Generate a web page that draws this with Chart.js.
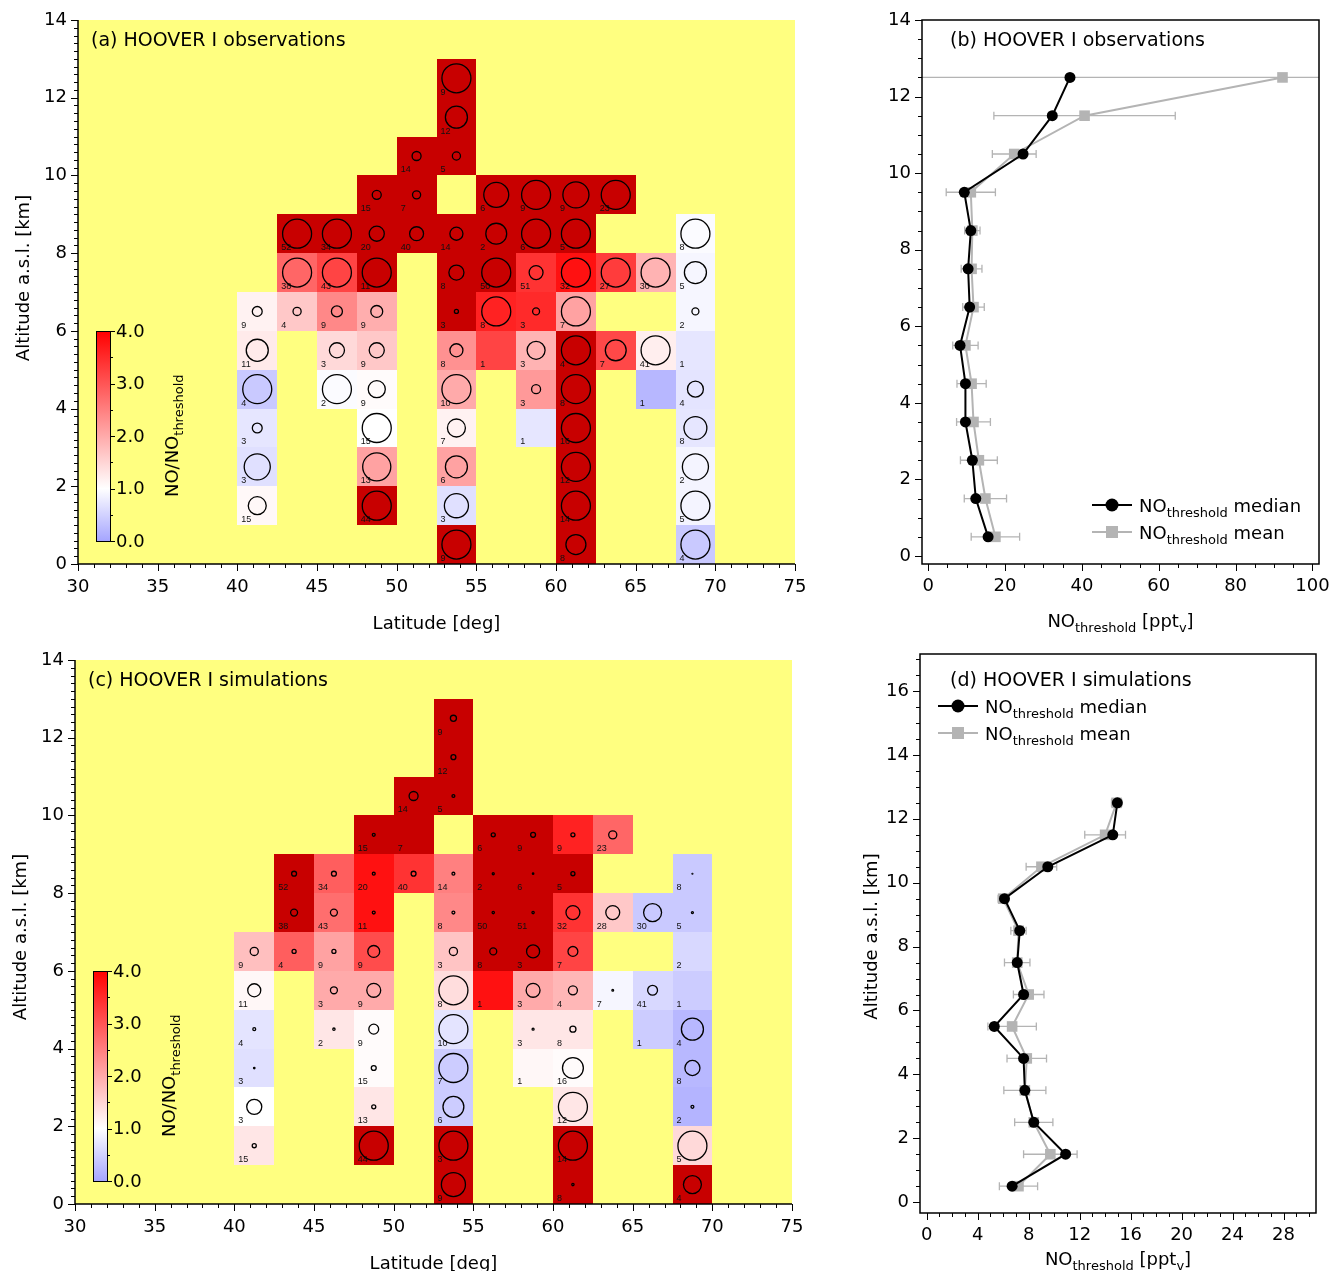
<!DOCTYPE html>
<html>
<head>
<meta charset="utf-8">
<script src="https://cdn.jsdelivr.net/npm/chart.js@4.4.1/dist/chart.umd.min.js"></script>
<style>
  body { margin: 0; background: #fff; width: 1332px; height: 1271px; position: relative; overflow: hidden; }
  .panel { position: absolute; }
</style>
</head>
<body>
<div class="panel" style="left:0;top:0;width:830px;height:645px"><canvas id="panelA"></canvas></div>
<div class="panel" style="left:860px;top:0;width:472px;height:645px"><canvas id="panelB"></canvas></div>
<div class="panel" style="left:0;top:640px;width:830px;height:631px"><canvas id="panelC"></canvas></div>
<div class="panel" style="left:850px;top:640px;width:482px;height:631px"><canvas id="panelD"></canvas></div>
<script>
// ---- grid bins (lower edges) ----
const latEdges = [40, 42.5, 45, 47.5, 50, 52.5, 55, 57.5, 60, 62.5, 65, 67.5];
const latStep = 2.5;
const altEdges = [0, 1, 2, 3, 4, 5, 6, 7, 8, 9, 10, 11, 12];
const altStep = 1;
const _ = null;
const H = 5; // above the colour range (> 4)

// NO/NO_threshold ratio per bin, rows = altitude bins from 0 km upwards
const obsRatio = [
  [_, _, _, _, _, H, _, _, H, _, _, 0.4],
  [1.08, _, _, H, _, 0.66, _, _, H, _, _, 0.88],
  [0.66, _, _, 2.1, _, 2.1, _, _, H, _, _, 0.88],
  [0.72, _, _, 1.0, _, 1.15, _, 0.72, H, _, _, 0.72],
  [0.4, _, 0.95, 1.05, _, 2.0, _, 2.2, H, _, 0.2, 0.7],
  [1.25, _, 1.45, 1.65, _, 2.3, 3.2, 1.9, H, 3.15, 1.2, 0.72],
  [1.15, 1.65, 2.4, 1.95, _, H, 3.6, 3.5, 2.1, _, _, 0.9],
  [_, 2.8, 3.2, H, _, H, H, 3.4, 3.8, 3.3, 1.9, 0.9],
  [_, H, H, H, H, H, H, H, H, _, _, 0.95],
  [_, _, _, H, H, _, H, H, H, H, _, _],
  [_, _, _, _, H, H, _, _, _, _, _, _],
  [_, _, _, _, _, H, _, _, _, _, _, _],
  [_, _, _, _, _, H, _, _, _, _, _, _]
];
// circle size, percent of the largest circle
const obsSpread = [
  [_, _, _, _, _, 100, _, _, 69, _, _, 100],
  [62, _, _, 100, _, 83, _, _, 100, _, _, 100],
  [90, _, _, 97, _, 76, _, _, 100, _, _, 90],
  [34, _, _, 100, _, 62, _, 0, 100, _, _, 79],
  [100, _, 100, 59, _, 100, _, 31, 100, _, 0, 55],
  [76, _, 52, 52, _, 45, 0, 62, 100, 72, 100, 0],
  [34, 28, 38, 41, _, 14, 100, 24, 100, _, _, 24],
  [_, 100, 100, 100, _, 52, 100, 48, 100, 100, 100, 76],
  [_, 100, 100, 52, 48, 45, 72, 100, 100, _, _, 100],
  [_, _, _, 31, 28, _, 86, 100, 90, 100, _, _],
  [_, _, _, _, 31, 28, _, _, _, _, _, _],
  [_, _, _, _, _, 76, _, _, _, _, _, _],
  [_, _, _, _, _, 100, _, _, _, _, _, _]
];
const obsCounts = [
  [_, _, _, _, _, 9, _, _, 8, _, _, 4],
  [15, _, _, 44, _, 3, _, _, 14, _, _, 5],
  [3, _, _, 13, _, 6, _, _, 12, _, _, 2],
  [3, _, _, 15, _, 7, _, 1, 16, _, _, 8],
  [4, _, 2, 9, _, 10, _, 3, 8, _, 1, 4],
  [11, _, 3, 9, _, 8, 1, 3, 4, 7, 41, 1],
  [9, 4, 9, 9, _, 3, 8, 3, 7, _, _, 2],
  [_, 38, 43, 11, _, 8, 50, 51, 32, 27, 30, 5],
  [_, 52, 34, 20, 40, 14, 2, 6, 5, _, _, 8],
  [_, _, _, 15, 7, _, 6, 9, 9, 23, _, _],
  [_, _, _, _, 14, 5, _, _, _, _, _, _],
  [_, _, _, _, _, 12, _, _, _, _, _, _],
  [_, _, _, _, _, 9, _, _, _, _, _, _]
];

const simRatio = [
  [_, _, _, _, _, H, _, _, H, _, _, H],
  [1.3, _, _, H, _, H, _, _, H, _, _, 1.45],
  [1.0, _, _, 1.3, _, 0.43, _, _, 1.3, _, _, 0.17],
  [0.66, _, _, 1.05, _, 0.43, _, 1.1, 1.05, _, _, 0.21],
  [0.7, _, 1.3, 1.05, _, 0.7, _, 1.3, 1.3, _, 0.43, 0.21],
  [1.1, _, 2.0, 2.0, _, 1.4, 3.8, 2.0, 1.85, 0.9, 0.57, 0.43],
  [1.75, 2.9, 2.1, 3.1, _, 1.7, H, H, 3.2, _, _, 0.57],
  [_, H, 2.7, 3.8, _, 2.4, H, H, 3.4, 1.65, 0.4, 0.4],
  [_, H, 2.9, 3.8, 3.4, 2.5, H, H, H, _, _, 0.4],
  [_, _, _, H, H, _, H, H, 3.6, 2.8, _, _],
  [_, _, _, _, H, H, _, _, _, _, _, _],
  [_, _, _, _, _, H, _, _, _, _, _, _],
  [_, _, _, _, _, H, _, _, _, _, _, _]
];
const simSpread = [
  [_, _, _, _, _, 83, _, _, 8, _, _, 62],
  [14, _, _, 100, _, 100, _, _, 100, _, _, 100],
  [52, _, _, 14, _, 72, _, _, 100, _, _, 10],
  [5, _, _, 17, _, 100, _, 0, 72, _, _, 52],
  [10, _, 8, 34, _, 100, _, 7, 21, _, 0, 76],
  [45, _, 24, 48, _, 100, 0, 48, 31, 6, 34, 0],
  [28, 14, 14, 41, _, 28, 24, 45, 34, _, _, 0],
  [_, 24, 24, 10, _, 10, 8, 8, 48, 48, 62, 7],
  [_, 17, 17, 10, 17, 10, 7, 5, 14, _, _, 3],
  [_, _, _, 10, 0, _, 14, 17, 14, 28, _, _],
  [_, _, _, _, 31, 10, _, _, _, _, _, _],
  [_, _, _, _, _, 17, _, _, _, _, _, _],
  [_, _, _, _, _, 21, _, _, _, _, _, _]
];
const simCounts = [
  [_, _, _, _, _, 9, _, _, 8, _, _, 4],
  [15, _, _, 44, _, 3, _, _, 14, _, _, 5],
  [3, _, _, 13, _, 6, _, _, 12, _, _, 2],
  [3, _, _, 15, _, 7, _, 1, 16, _, _, 8],
  [4, _, 2, 9, _, 10, _, 3, 8, _, 1, 4],
  [11, _, 3, 9, _, 8, 1, 3, 4, 7, 41, 1],
  [9, 4, 9, 9, _, 3, 8, 3, 7, _, _, 2],
  [_, 38, 43, 11, _, 8, 50, 51, 32, 28, 30, 5],
  [_, 52, 34, 20, 40, 14, 2, 6, 5, _, _, 8],
  [_, _, _, 15, 7, _, 6, 9, 9, 23, _, _],
  [_, _, _, _, 14, 5, _, _, _, _, _, _],
  [_, _, _, _, _, 12, _, _, _, _, _, _],
  [_, _, _, _, _, 9, _, _, _, _, _, _]
];

// ---- vertical profiles of NO_threshold [pptv] ----
const profileAlt = [0.5, 1.5, 2.5, 3.5, 4.5, 5.5, 6.5, 7.5, 8.5, 9.5, 10.5, 11.5, 12.5];
const obsMedian = [15.6, 12.4, 11.5, 9.7, 9.7, 8.3, 10.8, 10.4, 11.1, 9.4, 24.7, 32.3, 36.9];
const obsMean = [17.5, 14.9, 13.2, 11.8, 11.3, 9.7, 11.8, 11.3, 11.5, 11.1, 22.4, 40.7, 92.2];
const obsMeanErr = [6.3, 5.5, 4.8, 4.4, 3.8, 3.3, 2.8, 2.7, 2.0, 6.4, 5.7, 23.6, 110];
const simMedian = [6.7, 10.9, 8.4, 7.7, 7.6, 5.3, 7.6, 7.1, 7.3, 6.1, 9.5, 14.6, 14.96];
const simMean = [7.2, 9.7, 8.4, 7.7, 7.85, 6.7, 8.0, 7.1, 7.2, 6.0, 9.0, 14.0, 14.9];
const simMeanErr = [1.5, 2.1, 1.5, 1.65, 1.55, 1.9, 1.2, 1.0, 0.6, 0.4, 1.2, 1.6, 0.4];

const colorbarTicks = [0, 1, 2, 3, 4];

Chart.defaults.font.family = '"DejaVu Sans", Verdana, sans-serif';
Chart.defaults.font.size = 18;
Chart.defaults.color = '#000';

const FONT = '"DejaVu Sans", Verdana, sans-serif';
const maxRadius = 14.5;
const GREY = '#b4b4b4';

function ratioColor(v) {
  if (v > 4) return 'rgb(200,0,0)';
  if (v <= 1) {
    const c = Math.round(165 + 90 * Math.max(v, 0));
    return `rgb(${c},${c},255)`;
  }
  const g = Math.round(255 * (1 - (v - 1) / 3));
  return `rgb(255,${g},${g})`;
}

function cellPoints(ratio, spread) {
  const pts = [];
  altEdges.forEach((a, i) => latEdges.forEach((l, j) => {
    if (ratio[i][j] === null) return;
    pts.push({ x: l + latStep / 2, y: a + altStep / 2, r: spread[i][j] / 100 * maxRadius });
  }));
  return pts;
}

// text with subscripts: parts = [[text, isSub], ...]
function richText(ctx, parts, x, y, align, size) {
  size = size || 18;
  const big = size + 'px ' + FONT, small = '13px ' + FONT;
  let w = 0;
  parts.forEach(p => { ctx.font = p[1] ? small : big; w += ctx.measureText(p[0]).width; });
  let cx = align === 'center' ? x - w / 2 : x;
  ctx.textAlign = 'left';
  ctx.textBaseline = 'alphabetic';
  ctx.fillStyle = '#000';
  parts.forEach(p => {
    ctx.font = p[1] ? small : big;
    ctx.fillText(p[0], cx, p[1] ? y + 5 : y);
    cx += ctx.measureText(p[0]).width;
  });
}

function rotatedText(ctx, parts, x, y) {
  ctx.save();
  ctx.translate(x, y);
  ctx.rotate(-Math.PI / 2);
  richText(ctx, parts, 0, 0, 'center');
  ctx.restore();
}

function isMultiple(v, step) {
  const q = v / step;
  return Math.abs(q - Math.round(q)) < 1e-6;
}

// axis lines, major + minor tick marks
function drawFrame(chart, t) {
  const { ctx, chartArea: ca, scales: { x, y } } = chart;
  ctx.save();
  ctx.strokeStyle = '#000';
  ctx.lineWidth = 1;
  ctx.beginPath();
  const nx = Math.round((t.x[1] - t.x[0]) / t.x[2]);
  for (let k = 0; k <= nx; k++) {
    const v = t.x[0] + k * t.x[2];
    const px = Math.round(x.getPixelForValue(v)) + 0.5;
    ctx.moveTo(px, ca.bottom);
    ctx.lineTo(px, ca.bottom + (isMultiple(v, t.x[3]) ? 7 : 4));
  }
  const ny = Math.round((t.y[1] - t.y[0]) / t.y[2]);
  for (let k = 0; k <= ny; k++) {
    const v = t.y[0] + k * t.y[2];
    const py = Math.round(y.getPixelForValue(v)) + 0.5;
    ctx.moveTo(ca.left, py);
    ctx.lineTo(ca.left - (isMultiple(v, t.y[3]) ? 7 : 4), py);
  }
  ctx.stroke();
  ctx.lineWidth = 1.5;
  ctx.beginPath();
  ctx.moveTo(ca.left, ca.top);
  ctx.lineTo(ca.left, ca.bottom);
  ctx.lineTo(ca.right, ca.bottom);
  if (t.box) {
    ctx.lineTo(ca.right, ca.top);
    ctx.closePath();
  }
  ctx.stroke();
  ctx.restore();
}

function heatPlugin(ratio, counts, title, yTitleAt) {
  return {
    id: 'heat',
    beforeDatasetsDraw(chart) {
      const { ctx, chartArea: ca, scales: { x, y } } = chart;
      ctx.save();
      ctx.fillStyle = '#ffff80';
      ctx.fillRect(ca.left, ca.top, ca.right - ca.left, ca.bottom - ca.top);
      altEdges.forEach((a, i) => latEdges.forEach((l, j) => {
        const v = ratio[i][j];
        if (v === null) return;
        const x0 = Math.round(x.getPixelForValue(l)), x1 = Math.round(x.getPixelForValue(l + latStep));
        const y0 = Math.round(y.getPixelForValue(a + altStep)), y1 = Math.round(y.getPixelForValue(a));
        ctx.fillStyle = ratioColor(v);
        ctx.fillRect(x0, y0, x1 - x0, y1 - y0);
      }));
      // number of data points in each bin
      ctx.font = '9px "Liberation Sans", Arial, sans-serif';
      ctx.fillStyle = '#111';
      ctx.textAlign = 'left';
      ctx.textBaseline = 'alphabetic';
      altEdges.forEach((a, i) => latEdges.forEach((l, j) => {
        const n = counts[i][j];
        if (n === null) return;
        ctx.fillText(String(n), x.getPixelForValue(l) + 4, y.getPixelForValue(a) - 3);
      }));
      // colour bar
      const bx0 = Math.round(x.getPixelForValue(31.1)), bx1 = Math.round(x.getPixelForValue(32.0));
      const by0 = Math.round(y.getPixelForValue(6.0)), by1 = Math.round(y.getPixelForValue(0.6));
      const grad = ctx.createLinearGradient(0, by1, 0, by0);
      grad.addColorStop(0, ratioColor(0));
      grad.addColorStop(0.25, ratioColor(1));
      grad.addColorStop(1, ratioColor(4));
      ctx.fillStyle = grad;
      ctx.fillRect(bx0, by0, bx1 - bx0, by1 - by0);
      ctx.strokeStyle = '#000';
      ctx.lineWidth = 1;
      ctx.strokeRect(bx0 + 0.5, by0 + 0.5, bx1 - bx0, by1 - by0);
      ctx.beginPath();
      for (let k = 0; k <= 8; k++) {
        const py = Math.round(by1 - (by1 - by0) * k / 8) + 0.5;
        ctx.moveTo(bx1, py);
        ctx.lineTo(bx1 + (k % 2 === 0 ? 5 : 3), py);
      }
      ctx.stroke();
      ctx.font = '18px ' + FONT;
      ctx.fillStyle = '#000';
      ctx.textBaseline = 'middle';
      colorbarTicks.forEach(v => {
        ctx.fillText(v.toFixed(1), bx1 + 6, by1 - (by1 - by0) * v / 4 + 1);
      });
      rotatedText(ctx, [['NO/NO', false], ['threshold', true]], x.getPixelForValue(36.3), y.getPixelForValue(3.3));
      ctx.restore();
    },
    afterDraw(chart) {
      const { ctx, chartArea: ca } = chart;
      drawFrame(chart, { x: [30, 75, 1, 5], y: [0, 14, 0.2, 2], box: false });
      richText(ctx, [[title, false]], ca.left + 13, ca.top + 26, 'left', 19);
      richText(ctx, [['Latitude [deg]', false]], (ca.left + ca.right) / 2, ca.bottom + 64.5, 'center');
      rotatedText(ctx, [['Altitude a.s.l. [km]', false]], ca.left - 49.5, ca.top + yTitleAt);
    }
  };
}

function heatChart(id, ratio, spread, counts, title, frame) {
  return new Chart(document.getElementById(id), {
    type: 'bubble',
    data: {
      datasets: [{
        data: cellPoints(ratio, spread),
        backgroundColor: 'rgba(0,0,0,0)',
        borderColor: '#000',
        borderWidth: 1.3
      }]
    },
    options: {
      responsive: true,
      maintainAspectRatio: false,
      animation: false,
      events: [],
      layout: { padding: { top: frame.top, right: frame.right, left: 0, bottom: 0 } },
      plugins: { legend: { display: false }, tooltip: { enabled: false } },
      scales: {
        x: {
          type: 'linear', min: 30, max: 75,
          ticks: { stepSize: 5, padding: 13, autoSkip: false, maxRotation: 0 },
          grid: { display: false, drawTicks: false }, border: { display: false },
          afterFit: s => { s.height = frame.xh; s.paddingLeft = 0; s.paddingRight = 0; }
        },
        y: {
          type: 'linear', min: 0, max: 14,
          ticks: { stepSize: 2, padding: 11, autoSkip: false },
          grid: { display: false, drawTicks: false }, border: { display: false },
          afterFit: s => { s.width = frame.yw; s.paddingTop = 0; s.paddingBottom = 0; }
        }
      }
    },
    plugins: [heatPlugin(ratio, counts, title, frame.yTitleAt)]
  });
}

function profilePlugin(meanVals, errVals, cfg) {
  return {
    id: 'profile',
    beforeDatasetsDraw(chart) {
      const { ctx, chartArea: ca, scales: { x, y } } = chart;
      ctx.save();
      ctx.beginPath();
      ctx.rect(ca.left, ca.top, ca.right - ca.left, ca.bottom - ca.top);
      ctx.clip();
      ctx.strokeStyle = GREY;
      ctx.lineWidth = 1.3;
      ctx.beginPath();
      profileAlt.forEach((a, i) => {
        const py = y.getPixelForValue(a);
        const xl = x.getPixelForValue(meanVals[i] - errVals[i]);
        const xr = x.getPixelForValue(meanVals[i] + errVals[i]);
        ctx.moveTo(xl, py); ctx.lineTo(xr, py);
        ctx.moveTo(xl, py - 4); ctx.lineTo(xl, py + 4);
        ctx.moveTo(xr, py - 4); ctx.lineTo(xr, py + 4);
      });
      ctx.stroke();
      ctx.restore();
    },
    afterDraw(chart) {
      const { ctx, chartArea: ca } = chart;
      drawFrame(chart, cfg.ticks);
      ctx.save();
      richText(ctx, [[cfg.title, false]], ca.left + cfg.titleAt[0], ca.top + cfg.titleAt[1], 'left', 19);
      // legend
      const lx = ca.left + cfg.legendAt[0];
      const rows = [
        { color: '#000', style: 'circle', label: ' median' },
        { color: GREY, style: 'rect', label: ' mean' }
      ];
      rows.forEach((r, k) => {
        const ly = cfg.legendAt[1] + k * 27 + (cfg.legendFromBottom ? ca.bottom : ca.top);
        ctx.strokeStyle = r.color;
        ctx.fillStyle = r.color;
        ctx.lineWidth = 2;
        ctx.beginPath();
        ctx.moveTo(lx, ly); ctx.lineTo(lx + 40, ly);
        ctx.stroke();
        if (r.style === 'circle') {
          ctx.beginPath(); ctx.arc(lx + 20, ly, 6.5, 0, Math.PI * 2); ctx.fill();
        } else {
          ctx.fillRect(lx + 14, ly - 6, 12, 12);
        }
        richText(ctx, [['NO', false], ['threshold', true], [r.label, false]], lx + 47, ly + 6.5, 'left');
      });
      richText(ctx, [['NO', false], ['threshold', true], [' [ppt', false], ['v', true], [']', false]],
        (ca.left + ca.right) / 2, ca.bottom + cfg.xTitleAt, 'center');
      if (cfg.yTitle) {
        rotatedText(ctx, [['Altitude a.s.l. [km]', false]], ca.left - 43.5, (ca.top + ca.bottom) / 2 + 3);
      }
      ctx.restore();
    }
  };
}

function profileChart(id, medianVals, meanVals, errVals, cfg) {
  const toPts = vals => vals.map((v, i) => ({ x: v, y: profileAlt[i] }));
  return new Chart(document.getElementById(id), {
    type: 'scatter',
    data: {
      datasets: [
        {
          label: 'median', data: toPts(medianVals), showLine: true, order: 0,
          borderColor: '#000', backgroundColor: '#000', borderWidth: 2,
          pointStyle: 'circle', pointRadius: 5.5, pointBorderWidth: 0
        },
        {
          label: 'mean', data: toPts(meanVals), showLine: true, order: 1,
          borderColor: GREY, backgroundColor: GREY, borderWidth: 2,
          pointStyle: 'rect', pointRadius: 7.5, pointBorderWidth: 0
        }
      ]
    },
    options: {
      responsive: true,
      maintainAspectRatio: false,
      animation: false,
      events: [],
      layout: { padding: { top: cfg.frame.top, right: cfg.frame.right, left: 0, bottom: 0 } },
      plugins: { legend: { display: false }, tooltip: { enabled: false } },
      scales: {
        x: {
          type: 'linear', min: cfg.xRange[0], max: cfg.xRange[1],
          ticks: { stepSize: cfg.xStep, padding: cfg.xPad, autoSkip: false, includeBounds: false, maxRotation: 0 },
          grid: { display: false, drawTicks: false }, border: { display: false },
          afterFit: s => { s.height = cfg.frame.xh; s.paddingLeft = 0; s.paddingRight = 0; }
        },
        y: {
          type: 'linear', min: cfg.yRange[0], max: cfg.yRange[1],
          ticks: { stepSize: 2, padding: 11, autoSkip: false, includeBounds: false },
          grid: { display: false, drawTicks: false }, border: { display: false },
          afterFit: s => { s.width = cfg.frame.yw; s.paddingTop = 0; s.paddingBottom = 0; }
        }
      }
    },
    plugins: [profilePlugin(meanVals, errVals, cfg)]
  });
}

heatChart('panelA', obsRatio, obsSpread, obsCounts, '(a) HOOVER I observations',
  { top: 20, right: 35, xh: 81, yw: 78, yTitleAt: 258 });
heatChart('panelC', simRatio, simSpread, simCounts, '(c) HOOVER I simulations',
  { top: 20, right: 38, xh: 67, yw: 75, yTitleAt: 277 });

profileChart('panelB', obsMedian, obsMean, obsMeanErr, {
  frame: { top: 20, right: 13, xh: 81, yw: 62 },
  xRange: [-1.6, 101.7], xStep: 20, xPad: 12, yRange: [-0.21, 14],
  ticks: { x: [0, 100, 5, 20], y: [0, 14, 0.5, 2], box: true },
  title: '(b) HOOVER I observations', titleAt: [28, 26],
  legendAt: [170, -59], legendFromBottom: true,
  xTitleAt: 62.5, yTitle: false
});
profileChart('panelD', simMedian, simMean, simMeanErr, {
  frame: { top: 14, right: 16, xh: 58, yw: 70 },
  xRange: [-0.53, 30.55], xStep: 4, xPad: 12, yRange: [-0.34, 17.16],
  ticks: { x: [0, 30, 1, 4], y: [0, 17, 0.5, 2], box: true },
  title: '(d) HOOVER I simulations', titleAt: [30, 32],
  legendAt: [18, 52], legendFromBottom: false,
  xTitleAt: 51.5, yTitle: true
});
</script>
</body>
</html>
